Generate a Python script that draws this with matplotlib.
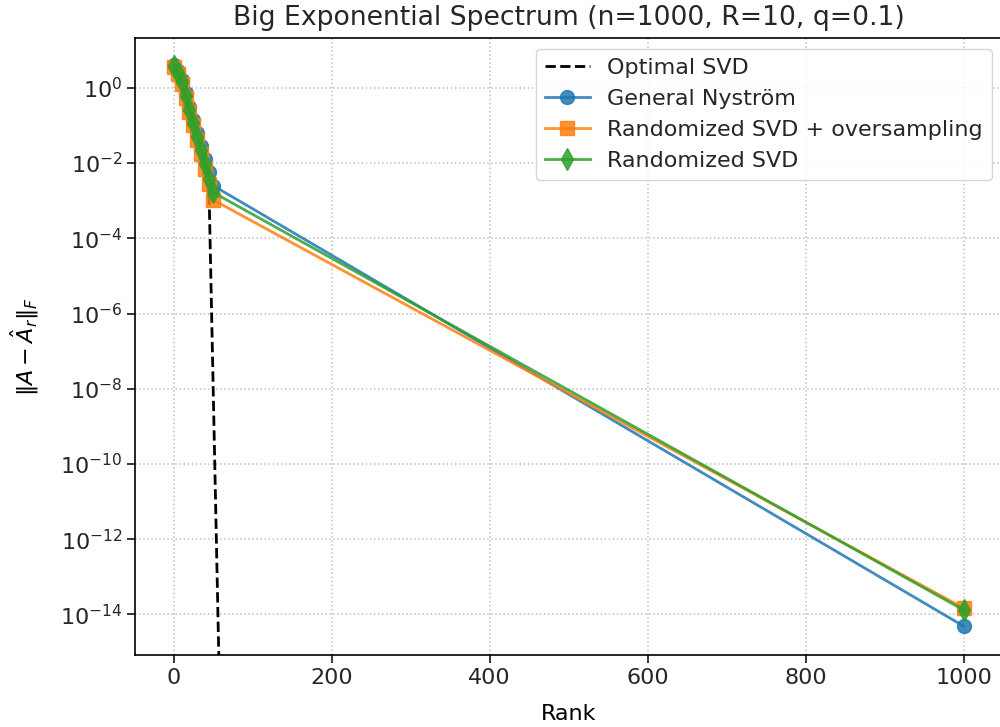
import matplotlib
matplotlib.use("Agg")
import matplotlib.pyplot as plt
import numpy as np

### Data ###

ranks = [1, 5, 10, 15, 20, 25, 30, 35, 40, 45, 50, 1000]

# log10 of the Frobenius error for each method
nystrom_log = [0.62, 0.45, 0.2, -0.15, -0.5, -0.85, -1.2, -1.55, -1.9, -2.25, -2.6, -14.31]
rsvd_os_log = [0.55, 0.36, 0.1, -0.28, -0.65, -1.0, -1.38, -1.75, -2.15, -2.55, -2.98, -13.83]
rsvd_log = [0.58, 0.4, 0.15, -0.22, -0.58, -0.93, -1.3, -1.65, -2.02, -2.42, -2.78, -13.88]

optimal_ranks = [1, 5, 10, 15, 20, 25, 30, 35, 40, 45, 60]
optimal_log = [0.55, 0.36, 0.1, -0.28, -0.66, -1.04, -1.42, -1.8, -2.25, -3.0, -18.0]

### End data ###

scale = 1.6  # reference looks like a hi-dpi render
plt.rcParams['font.size'] = 10 * scale
plt.rcParams['text.color'] = '#262626'
plt.rcParams['xtick.labelcolor'] = '#262626'
plt.rcParams['ytick.labelcolor'] = '#262626'

fig = plt.figure(figsize=(10, 7.27), dpi=100)
ax = fig.add_axes([0.135, 0.099, 0.868, 0.849])

lw = 2.0
ms = 10.0
alpha = 0.85

ax.plot(optimal_ranks, 10.0 ** np.array(optimal_log), 'k--', linewidth=lw, label='Optimal SVD')
ax.plot(ranks, 10.0 ** np.array(nystrom_log), marker='o', color='C0', linewidth=lw,
        markersize=ms, alpha=alpha, label='General Nyström')
ax.plot(ranks, 10.0 ** np.array(rsvd_os_log), marker='s', color='C1', linewidth=lw,
        markersize=ms * 0.95, alpha=alpha, label='Randomized SVD + oversampling')
ax.plot(ranks, 10.0 ** np.array(rsvd_log), marker='d', color='C2', linewidth=lw,
        markersize=ms * 1.1, alpha=alpha, label='Randomized SVD')

ax.set_yscale('log')
ax.set_xlim(-49, 1050)
ax.set_ylim(10 ** -15.08, 10 ** 1.33)
ax.set_yticks([10.0 ** k for k in range(0, -15, -2)])
ax.minorticks_off()

ax.grid(True, which='major', linestyle=':', color='#c0c0c0', linewidth=1.1)
ax.tick_params(width=1.1, length=5.5)
for s in ax.spines.values():
    s.set_linewidth(1.2)

ax.set_xlabel('Rank', labelpad=12)
ax.set_ylabel(r'$\|A - \hat{A}_r\|_F$', labelpad=14)
ax.set_title('Big Exponential Spectrum (n=1000, R=10, q=0.1)', fontsize=12 * scale, pad=9)
ax.legend(loc='upper right')

fig.savefig('out.png', dpi=100)
